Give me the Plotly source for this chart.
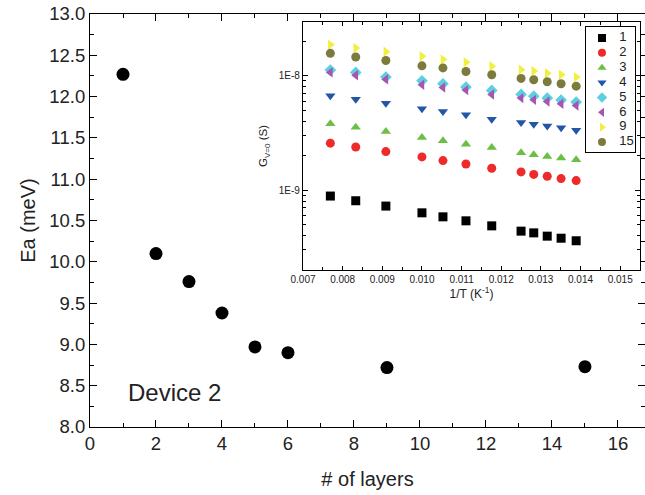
import plotly.graph_objects as go

# Main panel data
layers = [1, 2, 3, 4, 5, 6, 9, 15]
ea_mev = [12.27, 10.10, 9.76, 9.38, 8.97, 8.90, 8.72, 8.73]

# Inset data: 1/T (K^-1) and conductance G_{V=0} (S) per number of layers
inv_T = [0.00769, 0.00833, 0.00909, 0.01000, 0.01053, 0.01111,
         0.01176, 0.01250, 0.01282, 0.01316, 0.01351, 0.01389]
g_1 = [8.86e-10, 8.06e-10, 7.24e-10, 6.32e-10, 5.83e-10, 5.38e-10,
       4.86e-10, 4.37e-10, 4.22e-10, 3.95e-10, 3.79e-10, 3.60e-10]
g_2 = [2.57e-9, 2.38e-9, 2.17e-9, 1.95e-9, 1.81e-9, 1.69e-9,
       1.55e-9, 1.44e-9, 1.37e-9, 1.32e-9, 1.26e-9, 1.21e-9]
g_3 = [3.80e-9, 3.55e-9, 3.25e-9, 2.88e-9, 2.70e-9, 2.52e-9,
       2.36e-9, 2.12e-9, 2.04e-9, 1.97e-9, 1.91e-9, 1.84e-9]
g_4 = [6.68e-9, 6.24e-9, 5.75e-9, 5.14e-9, 4.87e-9, 4.55e-9,
       4.17e-9, 3.90e-9, 3.77e-9, 3.64e-9, 3.50e-9, 3.34e-9]
g_5 = [1.12e-8, 1.07e-8, 9.73e-9, 9.04e-9, 8.51e-9, 7.96e-9,
       7.44e-9, 6.86e-9, 6.63e-9, 6.37e-9, 6.12e-9, 5.88e-9]
g_6 = [1.07e-8, 1.01e-8, 9.29e-9, 8.34e-9, 7.90e-9, 7.49e-9,
       6.86e-9, 6.37e-9, 6.15e-9, 5.95e-9, 5.68e-9, 5.49e-9]
g_9 = [1.87e-8, 1.75e-8, 1.62e-8, 1.48e-8, 1.39e-8, 1.31e-8,
       1.21e-8, 1.13e-8, 1.10e-8, 1.05e-8, 1.02e-8, 9.73e-9]
g_15 = [1.57e-8, 1.46e-8, 1.36e-8, 1.22e-8, 1.17e-8, 1.09e-8,
        1.02e-8, 9.48e-9, 9.23e-9, 8.86e-9, 8.51e-9, 8.11e-9]

series_names = ["1", "2", "3", "4", "5", "6", "9", "15"]
series_vals = [g_1, g_2, g_3, g_4, g_5, g_6, g_9, g_15]
series_colors = ["#000000", "#ee2a2a", "#6cbf45", "#2456a8", "#5ccfe0",
                 "#a656b0", "#f0f040", "#7c7a3c"]
series_symbols = ["square", "circle", "triangle-up", "triangle-down",
                  "diamond", "triangle-left", "triangle-right", "circle"]

FONT = "Liberation Sans, Arial, sans-serif"
TXT = "#222222"

fig = go.Figure()

fig.add_trace(go.Scatter(
    x=layers, y=ea_mev, mode="markers",
    marker=dict(color="black", size=13, symbol="circle"),
    showlegend=False, xaxis="x", yaxis="y"))

for name, vals, col, sym in zip(series_names, series_vals, series_colors, series_symbols):
    fig.add_trace(go.Scatter(
        x=inv_T, y=vals, mode="markers", name=name, showlegend=False,
        marker=dict(color=col, size=9, symbol=sym),
        xaxis="x2", yaxis="y2"))

# Legend drawn as a small boxed subplot (rows = series order)
rows = list(range(len(series_names)))
fig.add_trace(go.Scatter(
    x=[0.33] * len(rows), y=rows, mode="markers",
    marker=dict(color=series_colors, symbol=series_symbols, size=8),
    showlegend=False, hoverinfo="skip", xaxis="x3", yaxis="y3"))
fig.add_trace(go.Scatter(
    x=[0.68] * len(rows), y=rows, mode="text", text=series_names,
    textposition="middle right",
    textfont=dict(size=13, family=FONT, color=TXT),
    showlegend=False, hoverinfo="skip", xaxis="x3", yaxis="y3"))

axis_common = dict(showline=True, linecolor="black", linewidth=1.2,
                   ticks="inside", mirror="ticks", showgrid=False,
                   zeroline=False, tickcolor="black")

fig.update_layout(
    width=645, height=495,
    margin=dict(l=90, r=0, t=14, b=68),
    paper_bgcolor="white", plot_bgcolor="white",
    font=dict(family=FONT, color=TXT),
    showlegend=False,
    xaxis=dict(domain=[0, 1], range=[0, 16.82], tickmode="array",
               tickvals=[0, 2, 4, 6, 8, 10, 12, 14, 16], ticklen=7,
               minor=dict(tickvals=[1, 3, 5, 7, 9, 11, 13, 15], ticklen=4,
                          ticks="inside", tickcolor="black"),
               tickfont=dict(size=18.5),
               title=dict(text="# of layers", font=dict(size=20), standoff=18),
               **axis_common),
    yaxis=dict(domain=[0, 1], range=[8.0, 13.0], tickmode="array",
               tickvals=[8.0, 8.5, 9.0, 9.5, 10.0, 10.5, 11.0, 11.5, 12.0, 12.5, 13.0],
               ticktext=["8.0", "8.5", "9.0", "9.5", "10.0", "10.5", "11.0",
                         "11.5", "12.0", "12.5", "13.0"],
               ticklen=7,
               minor=dict(dtick=0.25, ticklen=4, ticks="inside", tickcolor="black"),
               tickfont=dict(size=18.5),
               title=dict(text="Ea (meV)", font=dict(size=20), standoff=8),
               **axis_common),
    xaxis2=dict(domain=[0.3838, 0.991], anchor="y2", range=[0.007, 0.0155],
                tickmode="array",
                tickvals=[0.007, 0.008, 0.009, 0.010, 0.011, 0.012, 0.013, 0.014, 0.015],
                ticktext=["0.007", "0.008", "0.009", "0.010", "0.011", "0.012",
                          "0.013", "0.014", "0.015"],
                ticklen=4,
                minor=dict(dtick=0.0005, tick0=0.007, ticklen=2.5, ticks="inside",
                           tickcolor="black"),
                tickfont=dict(size=10),
                title=dict(text="1/T (K<sup>-1</sup>)", font=dict(size=12), standoff=5),
                **axis_common),
    yaxis2=dict(domain=[0.380, 0.9806], anchor="x2", type="log",
                range=[-9.70, -7.53], tickmode="array",
                tickvals=[1e-9, 1e-8], ticktext=["1E-9", "1E-8"], ticklen=5,
                minor=dict(tickvals=[2e-10, 3e-10, 4e-10, 5e-10, 6e-10, 7e-10, 8e-10, 9e-10,
                                     2e-9, 3e-9, 4e-9, 5e-9, 6e-9, 7e-9, 8e-9, 9e-9,
                                     2e-8, 3e-8], ticklen=3, ticks="inside",
                           tickcolor="black"),
                tickfont=dict(size=10),
                title=dict(text="G<sub>V=0</sub> (S)", font=dict(size=11.5), standoff=8),
                **axis_common),
    xaxis3=dict(domain=[0.8932, 0.982], anchor="y3", range=[0, 1],
                showline=True, mirror=True, linecolor="black", linewidth=1.2,
                showticklabels=False, ticks="", showgrid=False, zeroline=False,
                fixedrange=True),
    yaxis3=dict(domain=[0.6659, 0.9685], anchor="x3", range=[7.67, -0.74],
                showline=True, mirror=True, linecolor="black", linewidth=1.2,
                showticklabels=False, ticks="", showgrid=False, zeroline=False,
                fixedrange=True),
    annotations=[dict(x=2.55, y=8.42, xref="x", yref="y", text="Device 2",
                      showarrow=False, font=dict(size=24, family=FONT, color=TXT))],
)

fig.write_html("out.html")
